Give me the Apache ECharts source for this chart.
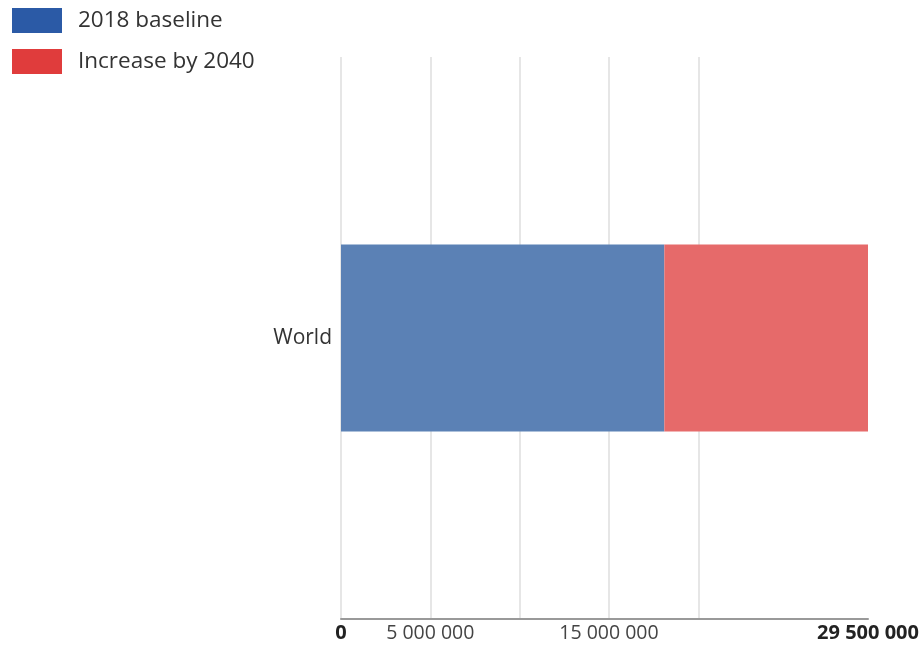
<!DOCTYPE html>
<html>
<head>
<meta charset="utf-8">
<style>html,body{margin:0;padding:0;background:#fff}#c{width:923px;height:646px}</style>
<script src="https://cdn.jsdelivr.net/npm/echarts@6/dist/echarts.min.js"></script>
</head>
<body>
<div id="c"></div>
<script>
const categories = ['World'];
const seriesNames = ['2018 baseline', 'Increase by 2040'];
const baseline2018 = [18100000];
const increase2040 = [11400000];
const axisMax = 29500000;
const tickLabels = [0, 5000000, 15000000, 29500000];
const boldTicks = [0, 29500000];

function fmt(v) {
  return String(v).replace(/\B(?=(\d{3})+(?!\d))/g, ' ');
}

const chart = echarts.init(document.getElementById('c'));
chart.setOption({
  animation: false,
  textStyle: { fontFamily: 'Open Sans' },
  legend: {
    orient: 'vertical',
    left: 7,
    top: 3,
    itemWidth: 50,
    itemHeight: 25,
    itemGap: 16,
    icon: 'rect',
    textStyle: { fontSize: 22.5, color: '#333', fontFamily: 'Open Sans', padding: [0, 0, 0, 11] },
    data: [
      { name: seriesNames[0], itemStyle: { color: '#2b5aa6', opacity: 1 } },
      { name: seriesNames[1], itemStyle: { color: '#e03c3c', opacity: 1 } }
    ]
  },
  grid: { left: 341, right: 55, top: 57, bottom: 27, containLabel: false },
  xAxis: {
    type: 'value',
    min: 0,
    max: axisMax,
    interval: 5000000,
    axisLine: { show: true, lineStyle: { color: '#999', width: 2 } },
    axisTick: { show: false },
    splitLine: {
      show: true,
      lineStyle: { color: ['#e6e6e6', '#e6e6e6', '#e6e6e6', '#e6e6e6', '#e6e6e6', 'rgba(0,0,0,0)', 'rgba(0,0,0,0)'], width: 2 }
    },
    axisLabel: {
      margin: 4,
      fontSize: 19.5,
      color: '#444',
      fontFamily: 'Open Sans',
      showMinLabel: true,
      showMaxLabel: true,
      hideOverlap: false,
      formatter: function (v) {
        if (tickLabels.indexOf(v) < 0) return '';
        return boldTicks.indexOf(v) >= 0 ? '{b|' + fmt(v) + '}' : fmt(v);
      },
      rich: { b: { fontWeight: 'bold', fontSize: 20, color: '#222', fontFamily: 'Open Sans' } }
    }
  },
  yAxis: {
    type: 'category',
    data: categories,
    axisLine: { show: false },
    axisTick: { show: false },
    axisLabel: { fontSize: 21, color: '#333', margin: 9, fontFamily: 'Open Sans' }
  },
  series: [
    {
      name: seriesNames[0], type: 'bar', stack: 'total', barWidth: '33.3%',
      itemStyle: { color: '#5b81b5' },
      data: baseline2018
    },
    {
      name: seriesNames[1], type: 'bar', stack: 'total', barWidth: '33.3%',
      itemStyle: { color: '#e66a6a' },
      data: increase2040
    }
  ]
});
</script>
</body>
</html>
